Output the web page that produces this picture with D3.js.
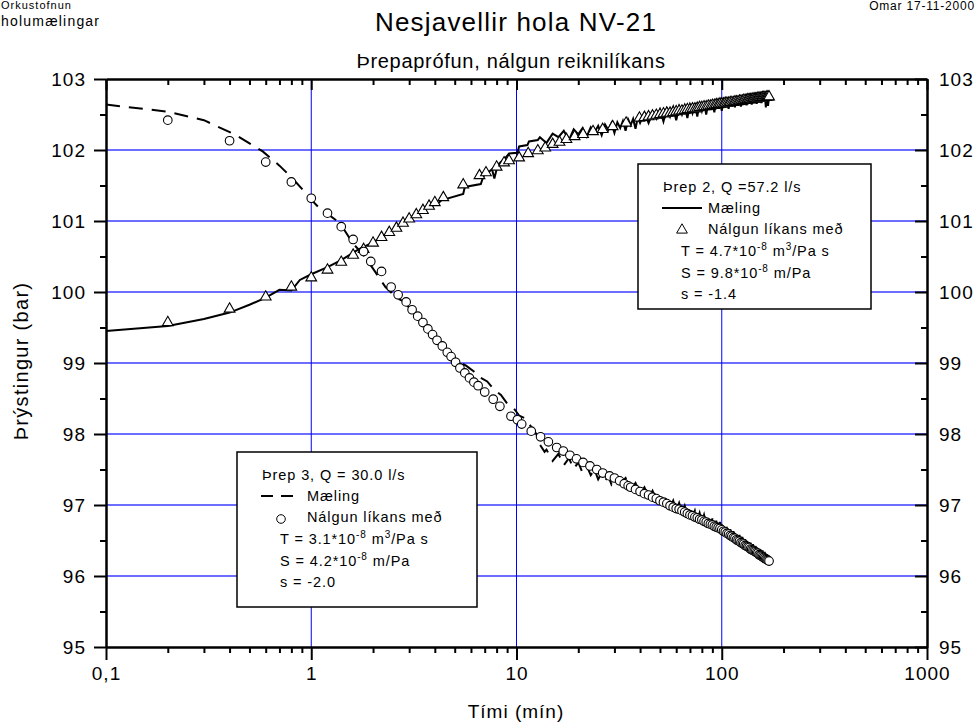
<!DOCTYPE html>
<html>
<head>
<meta charset="utf-8">
<script src="https://cdn.jsdelivr.net/npm/d3@7"></script>
<style>
  body { margin: 0; background: #fff; }
  svg { display: block; font-family: "Liberation Sans", Arial, sans-serif; }
</style>
</head>
<body>
<svg id="plot" width="980" height="727"></svg>
<script>
// ---- data ----
const xMajor = [0.1, 1, 10, 100, 1000];
const xLabels = ['0,1', '1', '10', '100', '1000'];
const xMinor = [0.2, 0.3, 0.4, 0.5, 0.6, 0.7, 0.8, 0.9, 2, 3, 4, 5, 6, 7, 8, 9,
                20, 30, 40, 50, 60, 70, 80, 90, 200, 300, 400, 500, 600, 700, 800, 900];
const yMajor = [95, 96, 97, 98, 99, 100, 101, 102, 103];
const yMinor = [95.5, 96.5, 97.5, 98.5, 99.5, 100.5, 101.5, 102.5];
const xGrid = [1, 10, 100];
const yGrid = [96, 97, 98, 99, 100, 101, 102];

// Þrep 2 – measured (solid line)
const tMeas2 = [0.1, 0.2, 0.3, 0.4, 0.5, 0.6, 0.7, 0.8, 0.88, 1.0, 1.2, 1.4, 1.7, 2.0, 2.4, 2.8, 3.0, 3.3, 3.5, 3.8,
  4.2, 4.3, 5.5, 5.6, 6.7, 6.9, 7.6, 7.8, 8.1, 8.9, 9.2, 10.1, 10.3, 11.3, 11.5, 12.7,
  13, 14, 15, 16, 17, 18, 19, 20, 21, 22, 23, 24, 25, 26, 27, 28, 29, 30, 31, 32, 33, 34, 35, 36, 37, 38, 39, 40,
  42, 44, 46, 48, 50, 52, 54, 56, 58, 60, 62, 64, 66, 68, 70, 72, 74, 76, 78, 80, 82, 84, 86, 88, 90, 92, 94, 96, 98, 100,
  102, 104, 106, 108, 110, 112, 114, 116, 118, 120, 122, 124, 126, 128, 130, 132, 134, 136, 138, 140,
  142, 144, 146, 148, 150, 152, 154, 156, 158, 160, 162, 164, 166, 168, 170];
const pMeas2 = [99.45, 99.52, 99.62, 99.71, 99.82, 99.92, 100.03, 100.02, 100.17, 100.25, 100.35, 100.45, 100.60, 100.70, 100.84, 100.96, 101.05, 101.08, 101.17, 101.20,
  101.26, 101.29, 101.38, 101.48, 101.52, 101.63, 101.73, 101.60, 101.79, 101.90, 101.95, 101.96, 102.05, 102.07, 102.12, 102.14,
  102.18, 102.10, 102.23, 102.18, 102.27, 102.14, 102.29, 102.22, 102.31, 102.19, 102.32, 102.25, 102.34, 102.21, 102.36, 102.28, 102.38, 102.24, 102.39, 102.31, 102.41, 102.27, 102.43, 102.35, 102.44, 102.30, 102.46, 102.38,
  102.52, 102.38, 102.53, 102.44, 102.57, 102.40, 102.58, 102.47, 102.60, 102.42, 102.61, 102.50, 102.62, 102.45, 102.63, 102.52, 102.65, 102.47, 102.66, 102.55, 102.67, 102.50, 102.68, 102.57, 102.69, 102.53, 102.70, 102.59, 102.71, 102.55,
  102.72, 102.60, 102.72, 102.58, 102.73, 102.62, 102.74, 102.60, 102.74, 102.64, 102.75, 102.61, 102.76, 102.66, 102.76, 102.63, 102.77, 102.67, 102.77, 102.64,
  102.78, 102.68, 102.78, 102.65, 102.79, 102.69, 102.79, 102.66, 102.80, 102.70, 102.79, 102.60, 102.78, 102.62, 102.74];

// Þrep 2 – model (triangles)
const tModel2 = [0.2, 0.4, 0.6, 0.8, 1.0, 1.2, 1.4, 1.6, 1.8, 2.0, 2.2, 2.4, 2.6, 2.8, 3.0, 3.25, 3.5, 3.75, 4.0, 4.4,
  5.5, 6.6, 7.1, 8.0, 8.7, 9.2, 10.3, 11.4, 12.7, 13.8, 15, 16.2, 17.5, 19.2, 21.1, 23.6, 26.3, 29.4, 34.2, 39.7,
  42, 44, 46, 48, 50, 52, 54, 56, 58, 60, 62, 64, 66, 68, 70, 72, 74, 76, 78, 80, 82, 84, 86, 88, 90, 92, 94, 96, 98, 100,
  102, 104, 106, 108, 110, 112, 114, 116, 118, 120, 122, 124, 126, 128, 130, 132, 134, 136, 138, 140,
  142, 144, 146, 148, 150, 152, 154, 156, 158, 160, 162, 164, 166, 168, 170];
const pModel2 = [99.57, 99.76, 99.93, 100.07, 100.20, 100.31, 100.42, 100.52, 100.60, 100.69, 100.77, 100.84, 100.90, 100.97, 101.03, 101.09, 101.15, 101.21, 101.26, 101.33,
  101.51, 101.64, 101.68, 101.76, 101.82, 101.85, 101.89, 101.95, 101.99, 102.03, 102.08, 102.11, 102.15, 102.19, 102.22, 102.26, 102.29, 102.33, 102.38, 102.45,
  102.46, 102.47, 102.48, 102.49, 102.50, 102.51, 102.52, 102.52, 102.53, 102.54, 102.55, 102.55, 102.56, 102.57, 102.57, 102.58, 102.58, 102.59, 102.60, 102.60, 102.61, 102.61, 102.62, 102.62, 102.63, 102.63, 102.64, 102.64, 102.65, 102.65,
  102.65, 102.66, 102.66, 102.66, 102.67, 102.67, 102.67, 102.68, 102.68, 102.68, 102.69, 102.69, 102.69, 102.70, 102.70, 102.70, 102.71, 102.71, 102.71, 102.71,
  102.72, 102.72, 102.72, 102.72, 102.73, 102.73, 102.73, 102.73, 102.74, 102.74, 102.74, 102.74, 102.75, 102.75, 102.75];

// Þrep 3 – measured (dashed line)
const tMeas3 = [0.1, 0.2, 0.3, 0.43, 0.58, 0.7, 0.81, 0.91, 1.0, 1.08, 1.2, 1.38, 1.6, 1.8, 2.0, 2.2, 2.3, 2.6, 2.8, 3.0,
  3.3, 3.6, 4.0, 4.4, 4.8, 5.4, 5.7, 6.2, 6.6, 7.2, 7.8, 8.4, 9.0, 9.6, 10.3, 11.0, 11.8, 12.5, 13.0, 13.7,
  14, 15, 16, 17, 18, 19, 20, 21, 22, 23, 24, 25, 26, 27, 28, 29, 30,
  32, 34, 36, 38, 40, 42, 44, 46, 48, 50, 52, 54, 56, 58, 60, 62, 64, 66, 68, 70, 72, 74, 76, 78, 80,
  82, 84, 86, 88, 90, 92, 94, 96, 98, 100, 102, 104, 106, 108, 110, 112, 114, 116, 118, 120,
  122, 124, 126, 128, 130, 132, 134, 136, 138, 140, 142, 144, 146, 148, 150, 152, 154, 156, 158, 160,
  162, 164, 166, 168];
const pMeas3 = [102.64, 102.54, 102.42, 102.21, 101.98, 101.78, 101.60, 101.44, 101.30, 101.20, 101.10, 100.97, 100.68, 100.52, 100.33, 100.15, 100.07, 99.92, 99.87, 99.78,
  99.65, 99.53, 99.38, 99.23, 99.12, 99.00, 98.96, 98.88, 98.80, 98.74, 98.62, 98.55, 98.43, 98.38, 98.26, 98.22, 98.10, 98.00, 97.85, 97.75,
  97.78, 97.62, 97.72, 97.56, 97.66, 97.51, 97.60, 97.45, 97.55, 97.42, 97.50, 97.36, 97.45, 97.34, 97.41, 97.29, 97.37,
  97.30, 97.38, 97.22, 97.31, 97.16, 97.25, 97.11, 97.20, 97.06, 97.15, 97.01, 97.11, 96.96, 97.06, 96.92, 97.03, 96.89, 96.99, 96.85, 96.95, 96.82, 96.92, 96.79, 96.89, 96.76,
  96.86, 96.73, 96.83, 96.70, 96.81, 96.67, 96.78, 96.65, 96.76, 96.62, 96.72, 96.59, 96.69, 96.56, 96.66, 96.53, 96.63, 96.50, 96.60, 96.47,
  96.58, 96.44, 96.55, 96.42, 96.52, 96.39, 96.50, 96.37, 96.47, 96.34, 96.45, 96.32, 96.43, 96.30, 96.41, 96.27, 96.38, 96.25, 96.36, 96.23,
  96.34, 96.21, 96.32, 96.19];

// Þrep 3 – model (circles)
const tModel3 = [0.2, 0.4, 0.6, 0.8, 1.0, 1.2, 1.4, 1.6, 1.8, 1.95, 2.2, 2.45, 2.65, 2.9, 3.1, 3.3, 3.5, 3.7, 3.9, 4.1,
  4.35, 4.6, 4.8, 5.05, 5.3, 5.6, 5.9, 6.2, 6.5, 7.0, 7.7, 8.3, 9.4, 10.1, 10.6, 11.8, 13.1, 14.3, 15.7, 16.9,
  18.2, 19.6, 21.1, 22.8, 24.6, 26.3, 28.4, 30, 31.8, 33.5, 35,
  36, 38, 40, 42, 44, 46, 48, 50, 52, 54, 56, 58, 60, 62, 64, 66, 68, 70, 72, 74, 76, 78, 80,
  82, 84, 86, 88, 90, 92, 94, 96, 98, 100, 102, 104, 106, 108, 110, 112, 114, 116, 118, 120,
  122, 124, 126, 128, 130, 132, 134, 136, 138, 140, 142, 144, 146, 148, 150, 152, 154, 156, 158, 160,
  162, 164, 166, 168, 170];
const pModel3 = [102.42, 102.13, 101.83, 101.55, 101.32, 101.11, 100.92, 100.74, 100.57, 100.43, 100.29, 100.07, 99.96, 99.86, 99.75, 99.66, 99.57, 99.48, 99.40, 99.32,
  99.24, 99.15, 99.09, 99.01, 98.93, 98.86, 98.79, 98.73, 98.68, 98.59, 98.49, 98.39, 98.25, 98.20, 98.14, 98.04, 97.96, 97.89, 97.81, 97.76,
  97.70, 97.65, 97.60, 97.55, 97.50, 97.45, 97.41, 97.38, 97.34, 97.30, 97.27,
  97.25, 97.22, 97.19, 97.16, 97.14, 97.11, 97.09, 97.06, 97.04, 97.02, 96.99, 96.97, 96.95, 96.94, 96.92, 96.90, 96.88, 96.86, 96.85, 96.83, 96.82, 96.80, 96.79,
  96.77, 96.76, 96.74, 96.73, 96.72, 96.70, 96.69, 96.68, 96.67, 96.65, 96.63, 96.62, 96.60, 96.59, 96.57, 96.56, 96.54, 96.53, 96.51, 96.50,
  96.49, 96.47, 96.46, 96.45, 96.43, 96.42, 96.41, 96.40, 96.38, 96.37, 96.36, 96.35, 96.34, 96.33, 96.32, 96.30, 96.29, 96.28, 96.27, 96.26,
  96.25, 96.24, 96.23, 96.22, 96.21];

const zip = (t, p) => t.map((d, i) => [d, p[i]]);

// ---- layout ----
const plot = d3.select('#plot');
const padLeft = 106, padRight = 927, padTop = 79, padBottom = 647;

const xScale = d3.scaleLog().domain([0.1, 1000]).range([padLeft, padRight]);
const yScale = d3.scaleLinear().domain([95, 103]).range([padBottom, padTop]);

// grid
plot.append('g').selectAll('line').data(yGrid).join('line')
  .attr('x1', padLeft).attr('x2', padRight)
  .attr('y1', d => yScale(d)).attr('y2', d => yScale(d))
  .attr('stroke', '#3c3cff').attr('stroke-width', 1.3);

plot.append('g').selectAll('line').data(xGrid).join('line')
  .attr('x1', d => xScale(d)).attr('x2', d => xScale(d))
  .attr('y1', padTop).attr('y2', padBottom)
  .attr('stroke', '#0000ff').attr('stroke-width', 1);

// lines
const line = d3.line()
  .x(d => xScale(d[0]))
  .y(d => yScale(d[1]));

plot.append('path')
  .attr('d', line(zip(tMeas3, pMeas3)))
  .attr('fill', 'none')
  .attr('stroke', '#000')
  .attr('stroke-width', 2)
  .attr('stroke-dasharray', '14,9');

plot.append('path')
  .attr('d', line(zip(tMeas2, pMeas2)))
  .attr('fill', 'none')
  .attr('stroke', '#000')
  .attr('stroke-width', 2);

// markers
const tri = d3.symbol(d3.symbolTriangle, 50);

plot.append('g').selectAll('path').data(zip(tModel2, pModel2)).join('path')
  .attr('d', tri)
  .attr('transform', d => `translate(${xScale(d[0])},${yScale(d[1])})`)
  .attr('fill', '#fff')
  .attr('stroke', '#000')
  .attr('stroke-width', 1.1);

plot.append('g').selectAll('circle').data(zip(tModel3, pModel3)).join('circle')
  .attr('cx', d => xScale(d[0]))
  .attr('cy', d => yScale(d[1]))
  .attr('r', 4.3)
  .attr('fill', '#fff')
  .attr('stroke', '#000')
  .attr('stroke-width', 1.1);

// legends
function legend(g, x0, y0, w, h, title, isDashed, T, S, s) {
  g.append('rect')
    .attr('x', x0).attr('y', y0).attr('width', w).attr('height', h)
    .attr('fill', '#fff').attr('stroke', '#000').attr('stroke-width', 1.5);

  const txt = g.append('g')
    .style('font-size', '14.5px')
    .style('letter-spacing', '0.9px');

  txt.append('text').attr('x', x0 + 25).attr('y', y0 + 28).text(title);

  g.append('line')
    .attr('x1', x0 + 24).attr('x2', x0 + 64)
    .attr('y1', y0 + 44).attr('y2', y0 + 44)
    .attr('stroke', '#000').attr('stroke-width', 2)
    .attr('stroke-dasharray', isDashed ? '12,8' : null);
  txt.append('text').attr('x', x0 + 70).attr('y', y0 + 49).text('Mæling');

  if (isDashed) {
    g.append('circle').attr('cx', x0 + 44).attr('cy', y0 + 67).attr('r', 4.3)
      .attr('fill', '#fff').attr('stroke', '#000');
  } else {
    g.append('path').attr('d', tri)
      .attr('transform', `translate(${x0 + 44},${y0 + 66})`)
      .attr('fill', '#fff').attr('stroke', '#000');
  }
  txt.append('text').attr('x', x0 + 70).attr('y', y0 + 70).text('Nálgun líkans með');

  const t1 = txt.append('text').attr('x', x0 + 43).attr('y', y0 + 92);
  t1.append('tspan').text(`T = ${T}*10`);
  t1.append('tspan').attr('dy', -6).style('font-size', '10px').text('-8');
  t1.append('tspan').attr('dy', 6).text(' m');
  t1.append('tspan').attr('dy', -6).style('font-size', '10px').text('3');
  t1.append('tspan').attr('dy', 6).text('/Pa s');

  const t2 = txt.append('text').attr('x', x0 + 43).attr('y', y0 + 114);
  t2.append('tspan').text(`S = ${S}*10`);
  t2.append('tspan').attr('dy', -6).style('font-size', '10px').text('-8');
  t2.append('tspan').attr('dy', 6).text(' m/Pa');

  txt.append('text').attr('x', x0 + 43).attr('y', y0 + 135).text(`s = ${s}`);
}

legend(plot.append('g'), 638, 164, 233, 145, 'Þrep 2, Q =57.2 l/s', false, '4.7', '9.8', '-1.4');
legend(plot.append('g'), 237, 452, 240, 155, 'Þrep 3, Q = 30.0 l/s', true, '3.1', '4.2', '-2.0');

// axes
function styleAxis(g) {
  g.selectAll('path.domain').attr('stroke', '#000').attr('stroke-width', 2);
  g.selectAll('.tick line').attr('stroke', '#000').attr('stroke-width', 2);
  g.selectAll('text')
    .attr('fill', '#000')
    .style('font-size', '19px')
    .style('letter-spacing', '1px')
    .style('font-family', '"Liberation Sans", Arial, sans-serif');
}

// bottom
plot.append('g').attr('transform', `translate(0,${padBottom})`)
  .call(d3.axisBottom(xScale).tickValues(xMinor).tickFormat('').tickSize(6).tickSizeOuter(0))
  .call(styleAxis);
plot.append('g').attr('transform', `translate(0,${padBottom})`)
  .call(d3.axisBottom(xScale).tickValues(xMajor).tickFormat((d, i) => xLabels[i]).tickSize(13).tickPadding(7).tickSizeOuter(0))
  .call(styleAxis);

// top
plot.append('g').attr('transform', `translate(0,${padTop})`)
  .call(d3.axisTop(xScale).tickValues(xMinor).tickFormat('').tickSize(-6).tickSizeOuter(0))
  .call(styleAxis);
plot.append('g').attr('transform', `translate(0,${padTop})`)
  .call(d3.axisTop(xScale).tickValues(xMajor).tickFormat('').tickSize(-11).tickSizeOuter(0))
  .call(styleAxis);

// left
plot.append('g').attr('transform', `translate(${padLeft},0)`)
  .call(d3.axisLeft(yScale).tickValues(yMinor).tickFormat('').tickSize(6).tickSizeOuter(0))
  .call(styleAxis);
plot.append('g').attr('transform', `translate(${padLeft},0)`)
  .call(d3.axisLeft(yScale).tickValues(yMajor).tickFormat(d3.format('d')).tickSize(12).tickPadding(8).tickSizeOuter(0))
  .call(styleAxis);

// right
plot.append('g').attr('transform', `translate(${padRight},0)`)
  .call(d3.axisRight(yScale).tickValues(yMinor).tickFormat('').tickSize(-6).tickSizeOuter(0))
  .call(styleAxis);
plot.append('g').attr('transform', `translate(${padRight},0)`)
  .call(d3.axisRight(yScale).tickValues(yMajor).tickFormat(d3.format('d')).tickSize(-12).tickPadding(12).tickSizeOuter(0))
  .call(styleAxis);

// titles
plot.append('text')
  .attr('x', 516).attr('y', 31)
  .attr('text-anchor', 'middle')
  .style('font-size', '26px').style('letter-spacing', '1.2px')
  .text('Nesjavellir hola NV-21');

plot.append('text')
  .attr('x', 511).attr('y', 68)
  .attr('text-anchor', 'middle')
  .style('font-size', '20px').style('letter-spacing', '0.7px')
  .text('Þrepaprófun, nálgun reiknilíkans');

plot.append('text')
  .attr('x', 516).attr('y', 718)
  .attr('text-anchor', 'middle')
  .style('font-size', '19px').style('letter-spacing', '1px')
  .text('Tími (mín)');

plot.append('text')
  .attr('transform', 'translate(28,361) rotate(-90)')
  .attr('text-anchor', 'middle')
  .style('font-size', '20px').style('letter-spacing', '1.3px')
  .text('Þrýstingur (bar)');

// corner notes
plot.append('text')
  .attr('x', 1).attr('y', 9)
  .style('font-size', '11px').style('letter-spacing', '1px')
  .text('Orkustofnun');

plot.append('text')
  .attr('x', 1).attr('y', 26)
  .style('font-size', '14px').style('letter-spacing', '1.2px')
  .text('holumælingar');

plot.append('text')
  .attr('x', 975).attr('y', 10)
  .attr('text-anchor', 'end')
  .style('font-size', '12px').style('letter-spacing', '0.8px')
  .text('Omar 17-11-2000');
</script>
</body>
</html>
